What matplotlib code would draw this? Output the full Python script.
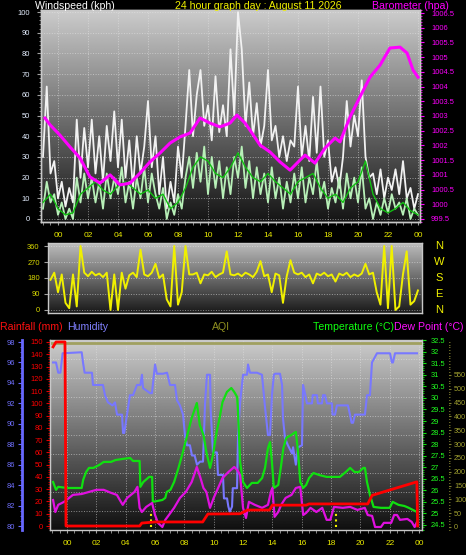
import numpy as np
import matplotlib
matplotlib.use('Agg')
import matplotlib.pyplot as plt
from matplotlib.ticker import MultipleLocator, FuncFormatter
import matplotlib.transforms as mtransforms

plt.rcParams['font.family'] = ['Liberation Sans', 'DejaVu Sans']

# ---------------- DATA ----------------
hour_ticks = list(range(0, 25, 2))
hour_labels = ['00', '02', '04', '06', '08', '10', '12', '14', '16', '18', '20', '22', '00']

# wind samples every 15 minutes from -1h to 24h
wind_hours = np.arange(-1.0, 24.001, 0.25)
wind_gust = [30, 64, 22, 28,
             10, 18, 6, 15,
             8, 48, 20, 44,
             25, 48, 22, 40,
             18, 45, 28, 52,
             25, 48, 20, 38,
             15, 40, 22, 35,
             57, 25, 40, 12,
             30, 5, 18, 8,
             35, 20, 45, 72,
             40, 60, 72, 45,
             55, 38, 69, 42,
             55, 40, 82, 50,
             100, 82, 45, 66,
             40, 56, 35, 45,
             72, 38, 45, 30,
             40, 28, 38, 35,
             64, 30, 45, 28,
             59, 32, 64, 30,
             38, 18, 25, 15,
             30, 57, 35, 50,
             40, 67, 30, 20,
             22, 12, 24, 10,
             20, 14, 24, 12,
             28, 10, 15, 5,
             12]
wind_speed = [5, 18, 8, 12,
              2, 8, 0, 5,
              0, 20, 8, 22,
              10, 20, 8, 18,
              5, 22, 10, 20,
              12, 25, 8, 18,
              5, 20, 10, 25,
              8, 22, 12, 5,
              15, 0, 8, 2,
              12, 5, 20, 30,
              15, 32, 18, 35,
              12, 30, 15, 28,
              10, 25, 12, 30,
              20, 35, 15, 28,
              10, 25, 12, 22,
              8, 25, 10, 20,
              5, 18, 8, 22,
              10, 25, 8, 20,
              12, 28, 10, 18,
              5, 15, 8, 20,
              5, 22, 10, 20,
              8, 25, 5, 10,
              0, 8, 2, 10,
              3, 12, 5, 8,
              2, 10, 0, 5,
              2]
avg_hours = np.arange(-1.0, 24.001, 0.5)
wind_avg = [8, 12, 5, 2, 3, 12, 15, 18, 14, 12, 16, 18, 15, 12, 14, 10, 12, 5, 8, 15,
            25, 30, 28, 22, 20, 25, 32, 25, 20, 18, 22, 18, 15, 12, 18, 20, 22, 15, 10, 12,
            8, 15, 18, 28, 12, 5, 3, 5, 8, 4, 2]

baro_hours = [-0.87, -0.53, 0.13, 0.8, 1.47, 2.13, 2.8, 3.47, 4.13, 4.8, 5.47, 6.13, 6.8, 7.47,
              8.13, 8.8, 9.47, 10.13, 10.8, 11.47, 11.93, 12.47, 12.8, 13.47, 14.13, 14.8, 15.47,
              16.13, 16.47, 17.13, 17.8, 18.47, 18.8, 19.47, 20.13, 20.8, 21.47, 22.13, 22.8,
              23.27, 23.67, 24.0]
baro = [1002.93, 1002.7, 1002.35, 1001.95, 1001.57, 1000.93, 1000.72, 1001.0, 1000.66, 1000.72,
        1001.06, 1001.44, 1001.74, 1002.08, 1002.29, 1002.42, 1002.93, 1002.76, 1002.63, 1002.76,
        1003.03, 1002.76, 1002.52, 1002.01, 1001.78, 1001.44, 1001.16, 1001.5, 1001.67, 1001.4,
        1001.91, 1002.25, 1002.12, 1002.97, 1003.65, 1004.32, 1004.73, 1005.31, 1005.34,
        1005.14, 1004.56, 1004.32]

dir_hours = np.arange(-0.5, 24.001, 0.25)
wind_dir = [170, 210,
            100, 200, 40, 10,
            200, 20, 360, 210,
            190, 215, 195, 205,
            185, 210, 0, 200,
            0, 210, 120, 195,
            210, 185, 340, 200,
            190, 210, 260, 180,
            200, 60, 20, 360,
            30, 100, 360, 200,
            200, 210, 150, 200,
            195, 215, 185, 200,
            210, 330, 200, 195,
            205, 190, 210, 200,
            185, 215, 275, 190,
            200, 100, 205, 195,
            40, 190, 280, 210,
            200, 210, 185, 200,
            150, 205, 195, 210,
            190, 200, 160, 205,
            195, 210, 185, 200,
            190, 205, 260, 200,
            210, 100, 30, 360,
            10, 360, 0, 20,
            200, 330, 30, 50,
            110]

rain_hours = [-0.95, -0.75, -0.14, -0.07, 4.95, 5.1, 6.0, 9.25, 9.6, 11.8, 12.3, 13.8, 14.0,
              16.3, 16.5, 20.5, 20.8, 23.85, 23.9]
rain = [146, 150, 150, 0, 0, 2.4, 3.3, 3.3, 9.8, 10, 13, 13, 17, 17, 18, 18, 25, 36, 0]

hum_hours = [-0.95, -0.75, -0.6, -0.45, -0.3, 1.0, 1.09, 1.2, 1.7, 1.77, 2.45, 2.59, 2.79, 3.1,
             3.27, 3.41, 3.75, 3.82, 3.9, 4.09, 4.29, 4.5, 4.77, 5.0, 5.11, 5.18, 5.66, 5.79,
             6.0, 6.13, 6.54, 6.82, 7.02, 7.36, 7.5, 7.7, 7.91, 8.04, 8.18, 8.38, 8.52, 8.7,
             8.86, 9.07, 9.27, 9.41, 9.54, 9.75, 9.8, 9.95, 10.22, 10.29, 10.63, 10.7, 10.91,
             11.0, 11.1, 11.25, 11.3, 11.59, 11.66, 11.8, 12.0, 12.27, 12.34, 12.47, 12.95,
             13.29, 13.5, 13.7, 13.84, 13.97, 14.1, 14.18, 14.52, 14.66, 14.72, 14.86, 15.06,
             15.34, 15.41, 15.6, 15.75, 16.02, 16.09, 16.22, 16.36, 16.7, 16.75, 17.04, 17.1,
             17.38, 17.45, 17.59, 17.72, 18.06, 18.1, 18.27, 18.4, 19.15, 19.29, 19.4, 19.5,
             19.63, 20.31, 20.45, 20.65, 20.79, 21.13, 22.02, 22.15, 22.22, 22.36, 23.86]
humidity = [96, 96, 95, 95, 96.9, 97, 96, 95, 95, 93.8, 93.8, 92.8, 92.1, 91.8,
            92.1, 90.9, 90.9, 89.1, 89.1, 90.9, 92.8, 92.8, 93.8, 93.8, 94.8, 93.5, 93.0, 93.0,
            95.8, 94.9, 94.9, 95, 93.8, 93.8, 92.3, 91.8, 90.9, 88.9, 87.9, 87.9, 86.9, 86.9,
            86, 86.3, 86.3, 92, 94.8, 94.8, 91.2, 87.2, 87.2, 85, 85, 82.7, 82.7,
            81.9, 81.4, 81.9, 83.7, 83.7, 88.9, 92.1, 94.8, 94.8, 95.8, 95, 95,
            94.8, 91.6, 88.9, 88.9, 92.8, 94.8, 94.9, 94.9, 93.8, 90.6, 88.6, 87.9,
            87.1, 87.7, 86.0, 87.7, 87.9, 93.8, 93, 92, 92, 92.8, 92.8, 92,
            92, 92.8, 92.8, 92, 92, 90.9, 90.9, 91.8, 91.8, 90.9, 90.1, 90.1,
            90.9, 90.9, 92.8, 92.8, 96, 96.9, 96.9, 96, 96, 96.9, 96.9]

temp_hours = [-0.95, -0.75, -0.6, 0.0, 1.0, 1.1, 1.3, 1.5, 1.8, 2.2, 2.5, 3.0, 3.3, 3.8, 4.3,
              4.5, 4.95, 5.0, 5.2, 5.6, 5.8, 5.85, 6.5, 6.7, 6.8, 7.05, 7.3, 7.6, 7.9, 8.2, 8.5,
              8.85, 9.05, 9.3, 9.5, 9.75, 9.95, 10.2, 10.4, 10.6, 10.9, 11.2, 11.4, 11.6, 11.66,
              11.8, 12.0, 12.27, 12.6, 13.0, 13.3, 13.5, 13.7, 13.84, 13.97, 14.1, 14.4, 14.6,
              14.75, 14.95, 15.3, 15.6, 15.75, 15.9, 16.1, 16.3, 16.5, 16.8, 17.2, 17.7, 18.2,
              18.6, 19.0, 19.3, 19.6, 19.9, 20.2, 20.31, 20.45, 20.65, 20.9, 21.4, 22.0, 22.2,
              22.35, 22.6, 23.0, 23.3, 23.86]
temperature = [26.36, 26.02, 26.15, 26.1, 26.1, 26.45, 26.79, 26.97, 26.97, 27.1, 27.23, 27.23,
               27.31, 27.36, 27.4, 27.27, 27.27, 26.15, 26.36, 26.58, 26.58, 25.5, 25.58, 25.67,
               25.93, 26.02, 26.36, 26.97, 27.66, 28.4, 29.13, 29.78, 28.83, 28.4, 27.66, 26.97,
               27.53, 28.53, 29.13, 29.82, 30.26, 30.43, 30.26, 30.04, 29.39, 27.23, 26.36, 26.1,
               26.32, 26.32, 26.53, 26.97, 27.83, 28.09, 27.23, 26.1, 26.23, 27.1, 27.83, 28.27,
               28.4, 28.53, 27.66, 26.36, 26.1, 26.23, 26.53, 26.75, 26.66, 26.58, 26.58, 26.58,
               26.79, 26.97, 26.79, 26.79, 26.97, 26.97, 26.36, 25.8, 25.28, 25.24, 25.24, 25.5,
               25.45, 25.37, 25.32, 25.24, 25.06]

dew_hours = [-0.95, -0.8, -0.6, -0.2, 0.4, 1.0, 1.5, 2.0, 2.5, 3.0, 3.4, 3.6, 3.8, 4.1, 4.6,
             4.8, 4.95, 5.1, 5.4, 5.8, 6.0, 6.2, 6.5, 6.7, 6.9, 7.3, 7.7, 8.1, 8.5, 8.85, 9.1,
             9.3, 9.5, 9.75, 10.0, 10.3, 10.6, 11.0, 11.4, 11.6, 11.8, 12.0, 12.2, 12.4, 12.8,
             13.3, 13.7, 13.9, 14.0, 14.15, 14.4, 14.6, 14.9, 15.3, 15.6, 15.9, 16.1, 16.3, 16.6,
             17.0, 17.4, 17.7, 17.95, 18.2, 18.8, 19.3, 19.8, 20.3, 20.5, 20.8, 21.0, 21.4, 21.6,
             22.1, 22.3, 22.5, 22.7, 23.2, 23.5, 23.7, 23.86]
dew_point = [25.58, 25.06, 25.37, 25.5, 25.8, 25.84, 25.93, 26.02, 26.02, 25.89, 25.8, 25.58,
             25.37, 25.67, 25.93, 26.15, 25.24, 25.06, 25.28, 25.45, 24.93, 24.59, 24.41, 24.72,
             24.89, 25.24, 25.67, 25.93, 26.36, 27.01, 26.53, 26.1, 25.93, 25.24, 25.67, 26.1,
             26.53, 26.79, 27.01, 26.88, 26.66, 25.24, 24.8, 25.5, 25.37, 25.24, 25.37, 25.93,
             26.1, 24.85, 25.06, 25.37, 25.67, 25.8, 26.1, 26.15, 24.93, 25.02, 25.24, 25.06,
             25.24, 24.72, 24.72, 25.28, 25.24, 25.28, 25.15, 25.24, 24.93, 24.89, 24.41, 24.41,
             24.59, 24.59, 24.93, 24.93, 24.72, 24.76, 24.63, 24.41, 24.63]

aqi_hours = [-1.16, 24.2]
aqi = [665, 665]
sun_events = [5.73, 18.34]

# ---------------- LAYOUT HELPERS ----------------
W, H = 466, 555
fig = plt.figure(figsize=(W / 100, H / 100), dpi=100, facecolor='black')


def rect(x0, y0, x1, y1):
    return [x0 / W, 1 - y1 / H, (x1 - x0) / W, (y1 - y0) / H]


def ftext(x, y, s, color, ha='left', size=7.6):
    fig.text(x / W, 1 - y / H, s, color=color, ha=ha, va='center', fontsize=size)


def gradient(ax, top, bottom):
    g = np.linspace(top, bottom, 256)
    img = np.repeat(g[:, None], 2, axis=1)
    ax.imshow(img, extent=[0, 1, 0, 1], transform=ax.transAxes, cmap='gray',
              vmin=0, vmax=1, aspect='auto', zorder=0, interpolation='bilinear')


def style_frame(ax):
    for s in ax.spines.values():
        s.set_color('#c8c8c8')
        s.set_linewidth(1.0)


fmt_g = FuncFormatter(lambda v, p: f'{v:g}')
TICK_FS = 5.4
GRID = dict(color='#e6e6e6', linestyle=':', linewidth=0.7, alpha=0.55)

# ---------------- TOP PANEL: wind speed / barometer ----------------
ax1 = fig.add_axes(rect(41, 10, 420, 222))
ax1.set_facecolor('black')
gradient(ax1, 0.80, 0.08)
ax1.plot(wind_hours, wind_gust, color='#f2f2f2', lw=1.3, zorder=3)
ax1.plot(wind_hours, wind_speed, color='#b8f0b8', lw=1.3, zorder=4)
ax1.plot(avg_hours, wind_avg, color='#10c010', lw=1.0, zorder=5)
ax1.set_xlim(-1.133, 24.133)
ax1.set_ylim(-1.45, 101)
ax1.set_xticks(hour_ticks)
ax1.set_xticklabels(hour_labels)
ax1.xaxis.set_minor_locator(MultipleLocator(0.5))
ax1.yaxis.set_major_locator(MultipleLocator(10))
ax1.yaxis.set_minor_locator(MultipleLocator(2))
ax1.tick_params(axis='x', which='both', colors='#a0a0a0', labelcolor='#e8e800',
                labelsize=6.0, length=2.5, pad=5)
ax1.tick_params(axis='y', which='major', colors='#a0a0a0', labelcolor='#e4eeff',
                labelsize=TICK_FS, length=3, pad=5)
ax1.tick_params(axis='y', which='minor', colors='#a0a0a0', length=1.5)
ax1.grid(True, which='major', **GRID)
style_frame(ax1)

ax1b = ax1.twinx()
ax1b.plot(baro_hours, baro, color='#ff00ff', lw=2.2, zorder=6)
ax1b.set_ylim(999.398, 1006.602)
ax1b.yaxis.set_major_locator(MultipleLocator(0.5))
ax1b.yaxis.set_minor_locator(MultipleLocator(0.1))
ax1b.yaxis.set_major_formatter(fmt_g)
ax1b.tick_params(axis='y', which='major', colors='#ff00ff', labelcolor='#ff00ff',
                 labelsize=TICK_FS, length=3, pad=5)
ax1b.tick_params(axis='y', which='minor', colors='#ff00ff', length=1.5)
style_frame(ax1b)

ftext(35, 6, 'Windspeed (kph)', 'white')
ftext(258, 6, '24 hour graph day : August 11 2026', '#f0f000', ha='center')
ftext(372, 6, 'Barometer (hpa)', '#ff00ff')

# ---------------- WIND DIRECTION PANEL ----------------
ax2 = fig.add_axes(rect(48, 243, 422, 313))
ax2.set_facecolor('black')
gradient(ax2, 0.74, 0.10)
ax2.plot(dir_hours, wind_dir, color='#f0f000', lw=1.4, zorder=3)
ax2.set_xlim(-0.667, 24.27)
ax2.set_ylim(-17, 377)
dir_ticks = [0, 90, 180, 270, 360]
dir_letters = ['N', 'E', 'S', 'W', 'N']
ax2.set_yticks(dir_ticks)
ax2.set_xticks(hour_ticks)
ax2.tick_params(axis='x', labelbottom=False, length=0)
ax2.tick_params(axis='y', colors='#a0a0a0', labelcolor='#d8d800', labelsize=TICK_FS,
                length=3, pad=3)
ax2.grid(True, axis='y', **GRID)
style_frame(ax2)
trans2 = mtransforms.blended_transform_factory(fig.transFigure, ax2.transData)
for v, letter in zip(dir_ticks, dir_letters):
    ax2.text(439 / W, v, letter, transform=trans2, color='#f0f000', ha='center',
             va='center', fontsize=8.0, clip_on=False)

# ---------------- BOTTOM PANEL ----------------
ftext(0, 327, 'Rainfall (mm)', '#ff1010')
ftext(67, 327, 'Humidity', '#8080ff')
ftext(221, 327, 'AQI', '#909020', ha='center')
ftext(313, 327, 'Temperature (°C)', '#10ff10')
ftext(394, 327, 'Dew Point (°C)', '#ff10ff')

ax3 = fig.add_axes(rect(50, 340, 422, 530))
ax3.set_facecolor('black')
gradient(ax3, 0.80, 0.06)
ax3.set_xlim(-1.16, 24.2)
ax3.set_ylim(0, 1)
ax3.set_yticks(np.linspace(0, 1, 11))
ax3.set_xticks(hour_ticks)
ax3.set_xticklabels(hour_labels)
ax3.xaxis.set_minor_locator(MultipleLocator(0.5))
ax3.tick_params(axis='x', which='both', colors='#a0a0a0', labelcolor='#e8e800',
                labelsize=6.0, length=2.5, pad=5)
ax3.tick_params(axis='y', left=False, labelleft=False)
ax3.grid(True, which='major', **GRID)
style_frame(ax3)


def twin(ax):
    t = ax.twinx()
    for s in t.spines.values():
        s.set_visible(False)
    return t


# humidity
axh = twin(ax3)
axh.plot(hum_hours, humidity, color='#7878ff', lw=1.5, zorder=3)
axh.set_ylim(79.61, 98.2)
axh.yaxis.set_ticks_position('left')
axh.spines['left'].set_visible(True)
axh.spines['left'].set_position(('outward', 20))
axh.spines['left'].set_color('#6868ff')
axh.spines['left'].set_linewidth(2)
axh.yaxis.set_major_locator(MultipleLocator(2))
axh.yaxis.set_minor_locator(MultipleLocator(0.5))
axh.tick_params(axis='y', which='major', colors='#6868ff', labelcolor='#7070ff',
                labelsize=TICK_FS, length=3, pad=2)
axh.tick_params(axis='y', which='minor', colors='#6868ff', length=1.5)

# AQI
axa = twin(ax3)
axa.plot(aqi_hours, aqi, color='#a0a060', lw=2.0, zorder=3)
axa.vlines(sun_events, 0, 55, colors='#f0f000', linestyles=':', lw=1.5, zorder=3)
axa.set_ylim(-10.9, 676.6)
axa.spines['right'].set_visible(True)
axa.spines['right'].set_position(('outward', 19))
axa.spines['right'].set_color('#000000')
axa.set_yticks(list(range(0, 551, 50)))
axa.yaxis.set_minor_locator(MultipleLocator(10))
axa.tick_params(axis='y', which='major', colors='#808030', labelcolor='#a0a030',
                labelsize=5.2, length=2.5, pad=1.5)
axa.tick_params(axis='y', which='minor', colors='#808030', length=1.5)

# temperature & dew point
axt = twin(ax3)
axt.plot(temp_hours, temperature, color='#10e010', lw=1.6, zorder=3)
axt.plot(dew_hours, dew_point, color='#e010e0', lw=1.6, zorder=4)
axt.set_ylim(24.28, 32.51)
axt.yaxis.set_major_locator(MultipleLocator(0.5))
axt.yaxis.set_minor_locator(MultipleLocator(0.1))
axt.yaxis.set_major_formatter(fmt_g)
axt.tick_params(axis='y', which='major', colors='#10e010', labelcolor='#20ff20',
                labelsize=TICK_FS, length=3, pad=3)
axt.tick_params(axis='y', which='minor', colors='#10e010', length=1.5)

# rainfall
axr = twin(ax3)
axr.plot(rain_hours, rain, color='#ff0000', lw=2.0, zorder=5)
axr.set_ylim(-3.26, 151.6)
axr.yaxis.set_ticks_position('left')
axr.yaxis.set_major_locator(MultipleLocator(10))
axr.yaxis.set_minor_locator(MultipleLocator(2))
axr.tick_params(axis='y', which='major', colors='#e00000', labelcolor='#ff0000',
                labelsize=TICK_FS, length=3, pad=2)
axr.tick_params(axis='y', which='minor', colors='#e00000', length=1.5)
axr.spines['left'].set_visible(True)
axr.spines['left'].set_color('#c8c8c8')
axr.spines['right'].set_visible(True)
axr.spines['right'].set_color('#c8c8c8')

for a in (ax1, ax2, ax3):
    a.set_axisbelow(True)

fig.savefig('out.png', dpi=100, facecolor='black')
